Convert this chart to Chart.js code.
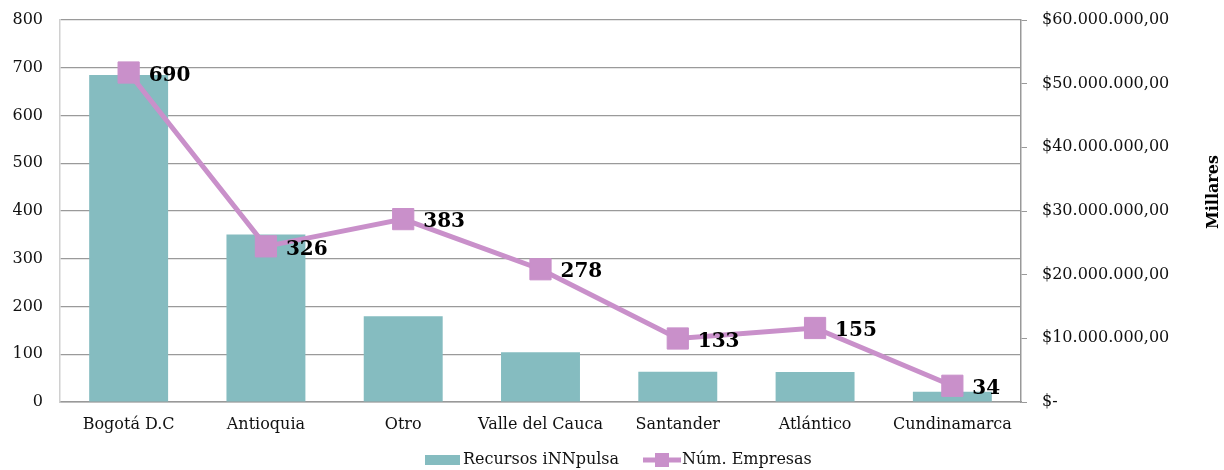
<!DOCTYPE html>
<html><head><meta charset="utf-8">
<script src="https://cdn.jsdelivr.net/npm/chart.js@4/dist/chart.umd.min.js"></script>
<style>html,body{margin:0;padding:0;background:#fff}#wrap{width:1224px;height:470px;position:relative}</style>
</head><body><div id="wrap"><canvas id="c" width="1224" height="470"></canvas></div>
<script>
const categories = ['Bogotá D.C', 'Antioquia', 'Otro', 'Valle del Cauca', 'Santander', 'Atlántico', 'Cundinamarca'];
const recursosLabel = 'Recursos iNNpulsa';
const recursos = [51360000, 26300000, 13460000, 7800000, 4760000, 4700000, 1600000];
const empresasLabel = 'Núm. Empresas';
const empresas = [690, 326, 383, 278, 133, 155, 34];
const leftMax = 800, leftStep = 100;
const rightMax = 60000000, rightStep = 10000000;
const rightAxisTitle = 'Millares';

const FONT = 'DejaVu Serif';
const TEAL = '#85bcc0';
const PURPLE = '#c990ca';

function fmtMoney(v) {
  if (v === 0) return '$-';
  const s = Math.round(v).toString().replace(/\B(?=(\d{3})+(?!\d))/g, '.');
  return '$' + s + ',00';
}

const labelPlugin = {
  id: 'valueLabels',
  afterDatasetsDraw(chart) {
    const ctx = chart.ctx;
    const dsIndex = chart.data.datasets.findIndex(d => d.type === 'line');
    const meta = chart.getDatasetMeta(dsIndex);
    ctx.save();
    ctx.font = 'bold 20px "' + FONT + '"';
    ctx.fillStyle = '#000';
    ctx.textAlign = 'left';
    ctx.textBaseline = 'middle';
    meta.data.forEach((pt, i) => {
      ctx.fillText(String(chart.data.datasets[dsIndex].data[i]), pt.x + 20, pt.y + 3);
    });
    ctx.restore();
  }
};

const extrasPlugin = {
  id: 'extras',
  afterDraw(chart) {
    const ctx = chart.ctx;
    ctx.save();
    ctx.font = 'bold 16px "' + FONT + '"';
    ctx.fillStyle = '#000';
    ctx.textAlign = 'center';
    ctx.textBaseline = 'middle';
    ctx.translate(1214, 192);
    ctx.rotate(-Math.PI / 2);
    ctx.fillText(rightAxisTitle, 0, 0);
    ctx.restore();

    ctx.save();
    const y = 460;
    ctx.font = '16px "' + FONT + '"';
    ctx.textBaseline = 'middle';
    ctx.textAlign = 'left';
    ctx.fillStyle = TEAL;
    ctx.fillRect(425, y - 5, 35, 10);
    ctx.fillStyle = '#111';
    ctx.fillText(recursosLabel, 463, y);
    ctx.strokeStyle = PURPLE;
    ctx.lineWidth = 5;
    ctx.beginPath();
    ctx.moveTo(643, y);
    ctx.lineTo(681, y);
    ctx.stroke();
    ctx.fillStyle = PURPLE;
    ctx.fillRect(655, y - 7, 14, 14);
    ctx.fillStyle = '#111';
    ctx.fillText(empresasLabel, 682, y);
    ctx.restore();
  }
};

new Chart(document.getElementById('c'), {
  data: {
    labels: categories,
    datasets: [
      {
        type: 'line',
        label: empresasLabel,
        data: empresas,
        yAxisID: 'y',
        borderColor: PURPLE,
        backgroundColor: PURPLE,
        borderWidth: 5,
        pointStyle: 'rect',
        pointRadius: 15,
        pointBorderWidth: 1,
        pointBackgroundColor: PURPLE,
        pointBorderColor: PURPLE,
        tension: 0,
        order: 0
      },
      {
        type: 'bar',
        label: recursosLabel,
        data: recursos,
        yAxisID: 'y2',
        backgroundColor: TEAL,
        borderWidth: 0,
        barPercentage: 0.575,
        categoryPercentage: 1,
        order: 1
      }
    ]
  },
  options: {
    responsive: false,
    devicePixelRatio: 1,
    animation: false,
    layout: { padding: { top: 20, bottom: 0, left: 0, right: 0 } },
    plugins: { legend: { display: false }, tooltip: { enabled: false } },
    scales: {
      x: {
        grid: { display: false, drawTicks: false },
        border: { color: '#999', width: 1.5 },
        ticks: { color: '#111', font: { family: FONT, size: 16 }, padding: 13, maxRotation: 0 },
        afterFit(s) { s.height = 68; s.paddingLeft = 0; s.paddingRight = 0; }
      },
      y: {
        position: 'left',
        min: 0, max: leftMax,
        ticks: { stepSize: leftStep, color: '#111', font: { family: FONT, size: 16 }, padding: 17 },
        grid: { color: '#9a9a9a', lineWidth: 1.2, drawTicks: false },
        border: { color: '#d0d0d0', width: 1.5 },
        afterFit(s) { s.width = 60; s.paddingTop = 0; s.paddingBottom = 0; }
      },
      y2: {
        position: 'right',
        min: 0, max: rightMax,
        ticks: { stepSize: rightStep, color: '#111', font: { family: FONT, size: 16 }, padding: 15, callback: v => fmtMoney(v) },
        grid: { drawOnChartArea: false, drawTicks: true, tickLength: 6, color: '#999' },
        border: { color: '#999', width: 1.5 },
        afterFit(s) { s.width = 203; s.paddingTop = 0; s.paddingBottom = 0; }
      }
    }
  },
  plugins: [labelPlugin, extrasPlugin]
});
</script>
</body></html>
